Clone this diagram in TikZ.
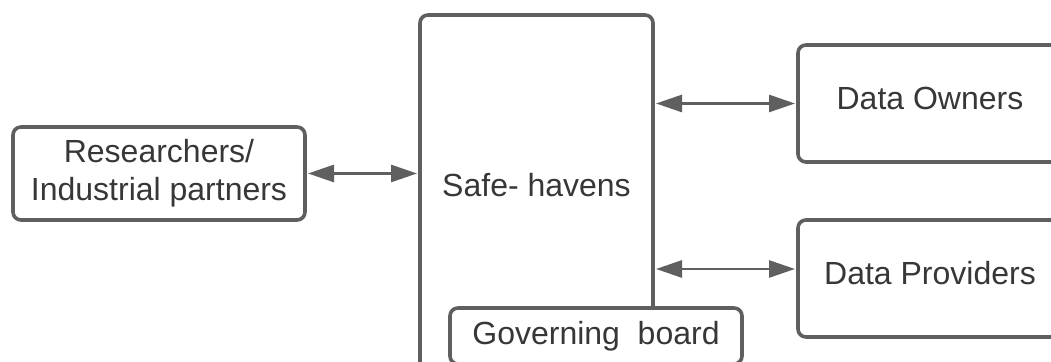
\documentclass[tikz,border=0pt]{standalone}
\usepackage{fontspec}
\setmainfont{Liberation Sans}
\usetikzlibrary{arrows.meta}
\definecolor{bordo}{RGB}{95,95,95}
\definecolor{testo}{RGB}{55,55,55}
\begin{document}
\begin{tikzpicture}[
        mybox/.style={
            rectangle,
            draw=bordo,
            fill=white,
            line width=1.8pt,
            rounded corners=4pt,
            align=center,
            text=testo,
            inner sep=0pt,
            font=\fontsize{16}{19}\selectfont
        },
        mylink/.style={
            draw=bordo,
            line width=1.4pt,
            {Triangle[length=13pt,width=8.5pt]}-{Triangle[length=13pt,width=8.5pt]},
            shorten <=0.6pt, shorten >=0.6pt
        }
    ]
        % Area del disegno (i riquadri tagliati escono dal bordo)
        \useasboundingbox (0,0) rectangle (525.5pt,181pt);
        \clip (0,0) rectangle (525.5pt,181pt);

        % Riquadro centrale e riquadri laterali
        \node[mybox, minimum width=116.5pt, minimum height=178.5pt,
              label={[font=\fontsize{16}{19}\selectfont, text=testo, yshift=4.1pt]center:Safe- havens}]
              (safe) at (268.25pt,84.25pt) {};
        \node[mybox, minimum width=146pt, minimum height=46.5pt]
              (res) at (79.5pt,94.25pt) {Researchers/\\Industrial partners};
        \node[mybox, minimum width=132pt, minimum height=58.5pt, text depth=5.2pt]
              (own) at (465pt,129.25pt) {Data Owners};
        \node[mybox, minimum width=132pt, minimum height=58.5pt, text depth=5.2pt]
              (prov) at (465pt,41.75pt) {Data Providers};
        \node[mybox, minimum width=146pt, minimum height=28pt]
              (gov) at (298pt,13pt) {Governing\ \ board};

        % Collegamenti bidirezionali
        \draw[mylink] (res.east) -- (res.east -| safe.west);
        \draw[mylink] (own.west -| safe.east) -- (own.west);
        \draw[mylink] ([yshift=4.75pt]prov.west -| safe.east) -- ([yshift=4.75pt]prov.west);
    \end{tikzpicture}
\end{document}
